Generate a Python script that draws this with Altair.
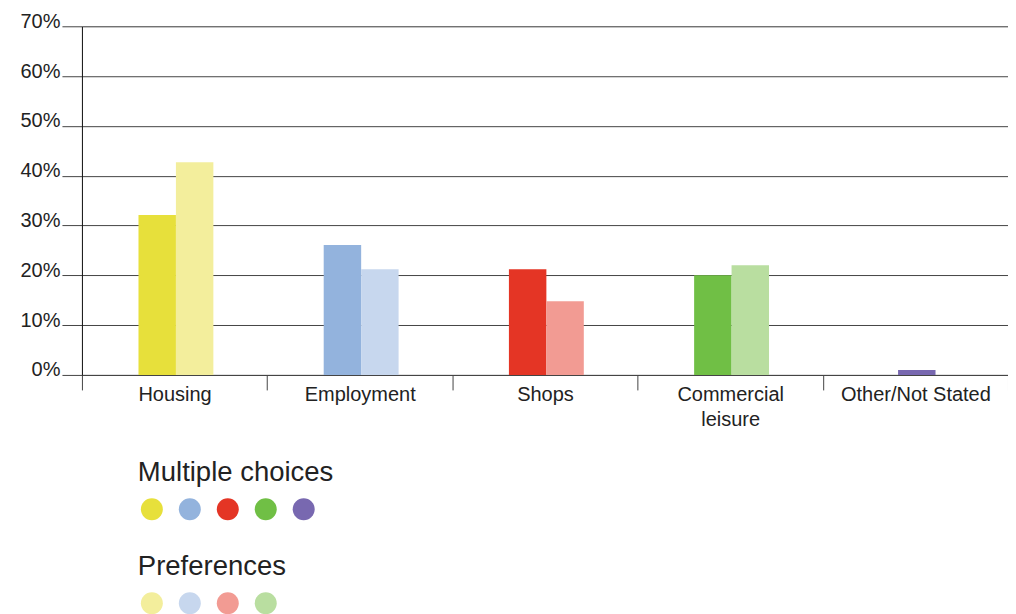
import altair as alt
import pandas as pd

categories = ["Housing", "Employment", "Shops", "Commercial leisure", "Other/Not Stated"]
multiple_choices = [32.1, 26.1, 21.2, 20.0, 1.0]
preferences = [42.7, 21.2, 14.8, 22.0]
multiple_colors = ["#E7E03B", "#93B3DD", "#E43525", "#70BF45", "#7868B0"]
preference_colors = ["#F3EE9C", "#C7D7EE", "#F29B93", "#B9DEA0"]
y_ticks = [0, 10, 20, 30, 40, 50, 60, 70]

FONT = "Liberation Sans"
TEXT = "#222222"
LINE = "#444444"

mc_df = pd.DataFrame({
    "category": categories,
    "value": multiple_choices,
    "series": ["mc", "mc", "mc", "mc", "mid"],
})
pref_df = pd.DataFrame({
    "category": categories[:4],
    "value": preferences,
    "series": ["pref"] * 4,
})

x_enc = alt.X(
    "category:N",
    sort=categories,
    scale=alt.Scale(domain=categories, paddingInner=0, paddingOuter=0),
    axis=alt.Axis(
        title=None,
        labelAngle=0,
        labelFont=FONT,
        labelFontSize=20,
        labelColor=TEXT,
        labelPadding=-5,
        tickBand="extent",
        tickSize=15,
        tickColor=LINE,
        domainColor=LINE,
        labelExpr="datum.label == 'Commercial leisure' ? ['Commercial', 'leisure'] : datum.label",
        labelLineHeight=25,
    ),
)
y_enc = alt.Y(
    "value:Q",
    scale=alt.Scale(domain=[0, 70], nice=False),
    axis=alt.Axis(
        title=None,
        values=y_ticks,
        labelExpr="datum.label + '%'",
        labelFont=FONT,
        labelFontSize=20,
        labelColor=TEXT,
        labelBaseline="alphabetic",
        labelPadding=2,
        labelOffset=1,
        tickSize=20,
        tickColor=LINE,
        grid=True,
        gridColor=LINE,
        gridOpacity=1,
        domainColor="#111111",
    ),
)
xoff = alt.XOffset(
    "series:N",
    scale=alt.Scale(domain=["mc", "mid", "pref"], paddingInner=0, paddingOuter=0,
                    range=[66.0, 122.2]),
)

def legend(title, ly):
    return alt.Legend(
        title=title,
        orient="none",
        legendX=56,
        legendY=ly,
        direction="horizontal",
        columns=5,
        symbolType="circle",
        symbolSize=484,
        symbolStrokeWidth=0,
        symbolOpacity=1,
        symbolOffset=3,
        labelExpr="''",
        labelOffset=0,
        columnPadding=13,
        titleFont=FONT,
        titleFontSize=27.5,
        titleFontWeight="normal",
        titleColor=TEXT,
        titlePadding=12,
        titleLimit=500,
        padding=0,
    )

mc = alt.Chart(mc_df).mark_bar(size=37.5).encode(
    x=x_enc,
    y=y_enc,
    xOffset=xoff,
    color=alt.Color(
        "category:N",
        scale=alt.Scale(domain=categories, range=multiple_colors),
        legend=legend("Multiple choices", 433),
    ),
)
pref = alt.Chart(pref_df).mark_bar(size=37.5).encode(
    x=x_enc,
    y=y_enc,
    xOffset=xoff,
    color=alt.Color(
        "category:N",
        scale=alt.Scale(domain=categories[:4], range=preference_colors),
        legend=legend("Preferences", 527),
    ),
)

chart = (
    alt.layer(mc, pref)
    .resolve_scale(color="independent")
    .properties(
        width=927,
        height=349,
        autosize=alt.AutoSizeParams(type="none"),
        padding={"left": 74, "top": 18, "right": 0, "bottom": 240},
    )
    .configure_view(stroke=None)
    .configure(background="white")
)

chart.save("out.html", embed_options={"renderer": "svg", "actions": False})
